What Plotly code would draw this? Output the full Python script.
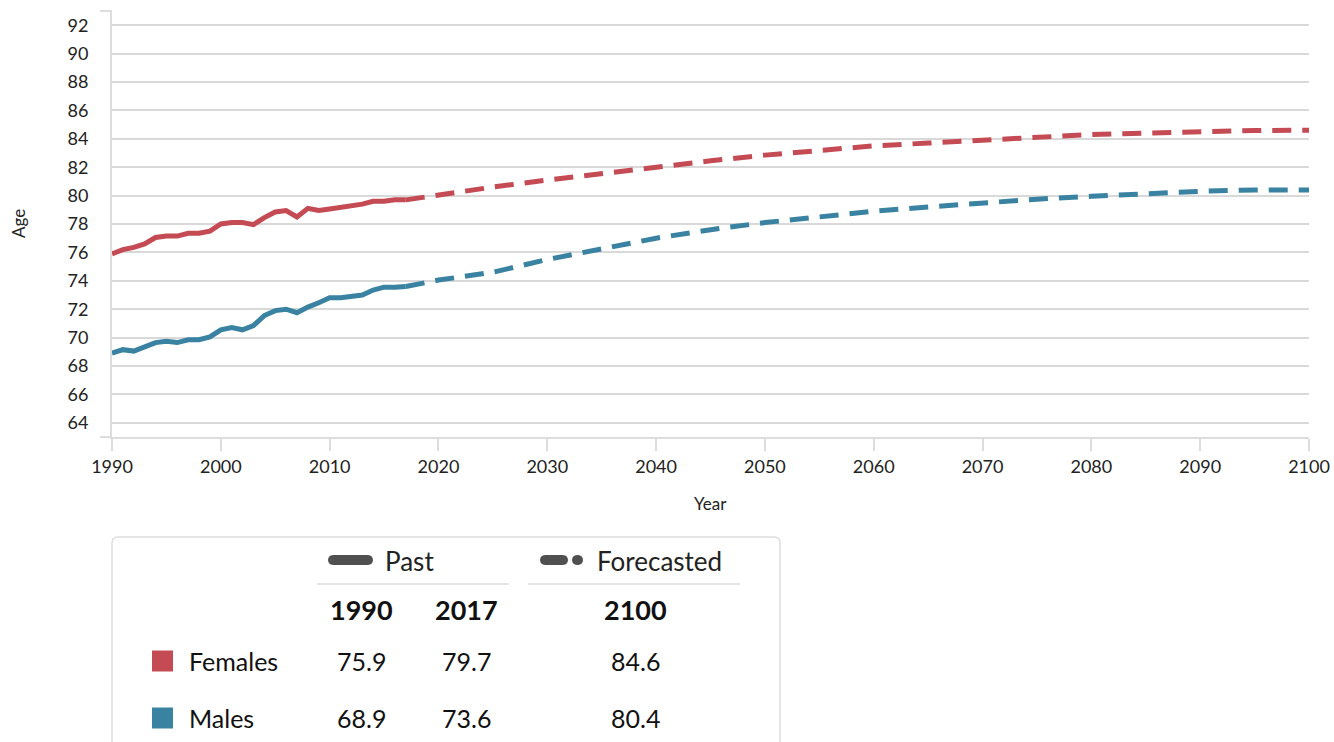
import plotly.graph_objects as go

# ---------------- data ----------------
past_years = list(range(1990, 2018))
female_past = [75.9, 76.2, 76.35, 76.6, 77.05, 77.15, 77.15, 77.35, 77.35, 77.5,
               78.0, 78.1, 78.1, 77.95, 78.45, 78.85, 78.95, 78.5, 79.1, 78.95,
               79.05, 79.15, 79.25, 79.4, 79.6, 79.6, 79.7, 79.7]
male_past = [68.9, 69.15, 69.05, 69.35, 69.65, 69.75, 69.65, 69.85, 69.85, 70.05,
             70.55, 70.7, 70.55, 70.85, 71.55, 71.9, 72.0, 71.75, 72.15, 72.45,
             72.8, 72.8, 72.9, 73.0, 73.35, 73.55, 73.55, 73.6]

fc_years = [2017, 2020, 2025, 2030, 2035, 2040, 2045, 2050, 2055, 2060,
            2065, 2070, 2075, 2080, 2085, 2090, 2095, 2100]
female_fc = [79.7, 80.05, 80.6, 81.1, 81.55, 82.05, 82.45, 82.85, 83.15, 83.5,
             83.7, 83.9, 84.15, 84.3, 84.4, 84.5, 84.58, 84.6]
male_fc = [73.6, 74.05, 74.6, 75.5, 76.25, 77.0, 77.6, 78.1, 78.5, 78.9,
           79.2, 79.5, 79.75, 79.95, 80.15, 80.3, 80.4, 80.4]

series_names = ["Females", "Males"]
table_years_past = ["1990", "2017"]
table_year_fc = "2100"
table_values = {"Females": ["75.9", "79.7", "84.6"],
                "Males": ["68.9", "73.6", "80.4"]}

# ---------------- styling ----------------
RED = "#C44A53"
TEAL = "#3A82A1"
GRID = "#d9d9d9"
FONT = "Lato, 'Open Sans', sans-serif"

W, H = 1334, 742
L, R, T, B = 112, 25, 11, 305
PW, PH = W - L - R, H - T - B


def px(x):
    return (x - L) / PW


def py(y):
    return (H - B - y) / PH


fig = go.Figure()
colors = {"Females": RED, "Males": TEAL}
pasts = {"Females": female_past, "Males": male_past}
fcs = {"Females": female_fc, "Males": male_fc}
for name in series_names:
    fig.add_trace(go.Scatter(x=fc_years, y=fcs[name], mode="lines",
                             line=dict(color=colors[name], width=5, dash="19px,11px"),
                             showlegend=False, hoverinfo="skip"))
    fig.add_trace(go.Scatter(x=past_years, y=pasts[name], mode="lines",
                             line=dict(color=colors[name], width=5),
                             showlegend=False, hoverinfo="skip"))

shapes = []
annotations = []

# axis end ticks on left
for yy in (T, H - B):
    shapes.append(dict(type="line", xref="paper", yref="paper",
                       x0=px(100), x1=px(112), y0=py(yy), y1=py(yy),
                       line=dict(color="#dddddd", width=2)))

# axis titles
annotations.append(dict(text="Year", x=px(710), y=py(503), xref="paper", yref="paper",
                        showarrow=False, font=dict(family=FONT, size=17, color="#222"),
                        xanchor="center", yanchor="middle"))
annotations.append(dict(text="Age", x=px(18), y=py(224), xref="paper", yref="paper",
                        showarrow=False, textangle=-90,
                        font=dict(family=FONT, size=17, color="#222"),
                        xanchor="center", yanchor="middle"))

# table box with rounded top corners
bx0, bx1, by0, by1, r = 112, 780, 537, 760, 6
path = (f"M {px(bx0)},{py(by1)} L {px(bx0)},{py(by0 + r)} "
        f"Q {px(bx0)},{py(by0)} {px(bx0 + r)},{py(by0)} "
        f"L {px(bx1 - r)},{py(by0)} Q {px(bx1)},{py(by0)} {px(bx1)},{py(by0 + r)} "
        f"L {px(bx1)},{py(by1)}")
shapes.append(dict(type="path", xref="paper", yref="paper", path=path,
                   line=dict(color="#dddddd", width=1.5)))


def pill(x0, x1, yc, h):
    rr = h / 2
    return (f"M {px(x0 + rr)},{py(yc - rr)} L {px(x1 - rr)},{py(yc - rr)} "
            f"C {px(x1 + rr * 0.33)},{py(yc - rr)} {px(x1 + rr * 0.33)},{py(yc + rr)} {px(x1 - rr)},{py(yc + rr)} "
            f"L {px(x0 + rr)},{py(yc + rr)} "
            f"C {px(x0 - rr * 0.33)},{py(yc + rr)} {px(x0 - rr * 0.33)},{py(yc - rr)} {px(x0 + rr)},{py(yc - rr)} Z")


LEG = "#505050"
for (a, b) in [(328, 373), (540, 568), (572, 583)]:
    shapes.append(dict(type="path", xref="paper", yref="paper", path=pill(a, b, 560, 10),
                       fillcolor=LEG, line=dict(width=0)))

annotations.append(dict(text="Past", x=px(383), y=py(561), xref="paper", yref="paper",
                        showarrow=False, xanchor="left", yanchor="middle",
                        font=dict(family=FONT, size=26, color="#222")))
annotations.append(dict(text="Forecasted", x=px(595), y=py(561), xref="paper", yref="paper",
                        showarrow=False, xanchor="left", yanchor="middle",
                        font=dict(family=FONT, size=26, color="#222")))

for (a, b) in [(317, 509), (528, 740)]:
    shapes.append(dict(type="line", xref="paper", yref="paper",
                       x0=px(a), x1=px(b), y0=py(584), y1=py(584),
                       line=dict(color="#dddddd", width=1.5)))

col_x = [361, 466, 635]
headers = table_years_past + [table_year_fc]
for cx, h in zip(col_x, headers):
    annotations.append(dict(text=f"<b>{h}</b>", x=px(cx), y=py(609), xref="paper", yref="paper",
                            showarrow=False, xanchor="center", yanchor="middle",
                            font=dict(family=FONT, size=27, color="#111")))

row_y = {"Females": 661, "Males": 718}
for name in series_names:
    yc = row_y[name]
    shapes.append(dict(type="rect", xref="paper", yref="paper",
                       x0=px(152), x1=px(173), y0=py(yc - 10.5), y1=py(yc + 10.5),
                       fillcolor=colors[name], line=dict(width=0)))
    annotations.append(dict(text=name, x=px(187), y=py(yc), xref="paper", yref="paper",
                            showarrow=False, xanchor="left", yanchor="middle",
                            font=dict(family=FONT, size=25, color="#111")))
    for cx, v in zip(col_x, table_values[name]):
        annotations.append(dict(text=v, x=px(cx), y=py(yc), xref="paper", yref="paper",
                                showarrow=False, xanchor="center", yanchor="middle",
                                font=dict(family=FONT, size=25, color="#111")))

fig.update_layout(
    width=W, height=H,
    margin=dict(l=L, r=R, t=T, b=B, autoexpand=False),
    paper_bgcolor="white", plot_bgcolor="white",
    font=dict(family=FONT, color="#222"),
    shapes=shapes, annotations=annotations,
    xaxis=dict(range=[1990, 2100], dtick=10, tick0=1990, ticks="outside", ticklen=12,
               tickwidth=2, tickcolor="#dddddd", showline=True, linecolor="#dddddd",
               linewidth=2, showgrid=False, zeroline=False, automargin=False,
               tickfont=dict(family=FONT, size=18, color="#222")),
    yaxis=dict(range=[63, 93], dtick=2, tick0=64, showgrid=True, gridcolor=GRID,
               gridwidth=2, showline=True, linecolor="#dddddd", linewidth=2,
               zeroline=False, ticks="", ticklabelstandoff=18, automargin=False,
               tickfont=dict(family=FONT, size=18, color="#222")),
)
fig.write_html("out.html", config={"displayModeBar": False},
               post_script="document.documentElement.style.margin='0px';"
                           "document.body.style.margin='0px';"
                           "document.documentElement.style.overflow='hidden';"
                           "document.body.style.overflow='hidden';")
